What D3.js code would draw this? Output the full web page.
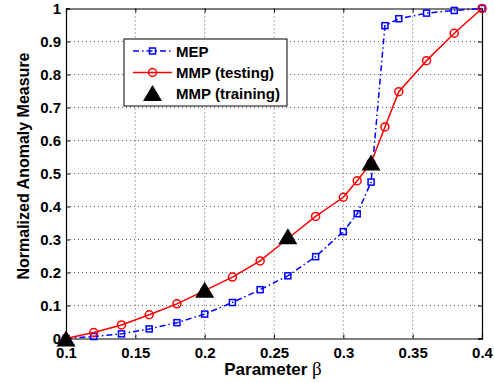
<!DOCTYPE html>
<html>
<head>
<meta charset="utf-8">
<script src="https://cdn.jsdelivr.net/npm/d3@7"></script>
<style>
  body { margin: 0; background: #fff; }
  text { font-family: "Liberation Sans", Arial, sans-serif; font-weight: bold; }
</style>
</head>
<body>
<div id="chart"></div>
<script>
// valeurs
const betaVals = [0.10, 0.12, 0.14, 0.16, 0.18, 0.20, 0.22, 0.24, 0.26, 0.28, 0.30, 0.31, 0.32, 0.33, 0.34, 0.36, 0.38, 0.40];
const mepVals  = [0, 0.006, 0.014, 0.029, 0.048, 0.074, 0.109, 0.148, 0.19, 0.248, 0.324, 0.378, 0.474, 0.948, 0.969, 0.986, 0.994, 1.0];
const mmpTest  = [0, 0.018, 0.041, 0.072, 0.105, 0.145, 0.186, 0.235, 0.303, 0.37, 0.428, 0.478, 0.532, 0.641, 0.748, 0.842, 0.925, 1.0];
const betaTrain = [0.10, 0.20, 0.26, 0.32];
const mmpTrain  = [0, 0.148, 0.31, 0.533];
const xTicks = [0.1, 0.15, 0.2, 0.25, 0.3, 0.35, 0.4];
const yTicks = [0, 0.1, 0.2, 0.3, 0.4, 0.5, 0.6, 0.7, 0.8, 0.9, 1];
const legendLabels = ["MEP", "MMP (testing)", "MMP (training)"];

const W = 495, H = 383;
const L = 66, R = 482, T = 8.5, B = 338.5;

const svg = d3.select("#chart").append("svg")
  .attr("width", W).attr("height", H);

const x = d3.scaleLinear().domain([0.1, 0.4]).range([L, R]);
const y = d3.scaleLinear().domain([0, 1]).range([B, T]);

// grille pointillée
const grid = svg.append("g")
  .attr("stroke", "#333").attr("stroke-width", 0.8).attr("stroke-dasharray", "1,3");
grid.selectAll("line.gx").data(xTicks.slice(1, -1)).join("line")
  .attr("x1", d => x(d)).attr("x2", d => x(d)).attr("y1", T).attr("y2", B);
grid.selectAll("line.gy").data(yTicks.slice(1, -1)).join("line")
  .attr("x1", L).attr("x2", R).attr("y1", d => y(d)).attr("y2", d => y(d));

// axes (ticks vers l'intérieur)
const axB = svg.append("g").attr("transform", `translate(0,${B})`)
  .call(d3.axisBottom(x).tickValues(xTicks).tickSize(-4).tickPadding(9).tickFormat(d3.format("")));
const axT = svg.append("g").attr("transform", `translate(0,${T})`)
  .call(d3.axisTop(x).tickValues(xTicks).tickSize(-4).tickFormat(""));
const axL = svg.append("g").attr("transform", `translate(${L},0)`)
  .call(d3.axisLeft(y).tickValues(yTicks).tickSize(-4).tickPadding(5).tickFormat(d3.format("")));
const axR = svg.append("g").attr("transform", `translate(${R},0)`)
  .call(d3.axisRight(y).tickValues(yTicks).tickSize(-4).tickFormat(""));
[axB, axT, axL, axR].forEach(a => {
  a.select(".domain").attr("stroke", "#000").attr("stroke-width", 1.2);
  a.selectAll(".tick line").attr("stroke", "#000");
  a.selectAll("text").attr("font-size", 15).attr("fill", "#000")
    .style("font-family", "Liberation Sans, Arial, sans-serif").style("font-weight", "bold");
});

// courbes
const line = d3.line().x(d => x(d[0])).y(d => y(d[1]));
const mepPts = betaVals.map((b, i) => [b, mepVals[i]]);
const testPts = betaVals.map((b, i) => [b, mmpTest[i]]);
const trainPts = betaTrain.map((b, i) => [b, mmpTrain[i]]);

svg.append("path").datum(mepPts).attr("d", line)
  .attr("fill", "none").attr("stroke", "#0000ff").attr("stroke-width", 1.5)
  .attr("stroke-dasharray", "6,3,1.5,3");
svg.selectAll("rect.mep").data(mepPts).join("rect")
  .attr("x", d => x(d[0]) - 3).attr("y", d => y(d[1]) - 3)
  .attr("width", 6).attr("height", 6)
  .attr("fill", "none").attr("stroke", "#0000ff").attr("stroke-width", 1.5);

svg.append("path").datum(testPts).attr("d", line)
  .attr("fill", "none").attr("stroke", "#ff0000").attr("stroke-width", 1.5);
svg.selectAll("circle.mmp").data(testPts).join("circle")
  .attr("cx", d => x(d[0])).attr("cy", d => y(d[1])).attr("r", 4)
  .attr("fill", "none").attr("stroke", "#ff0000").attr("stroke-width", 1.5);

const tri = "M0,-8L9.5,8L-9.5,8Z";
svg.selectAll("path.tri").data(trainPts).join("path")
  .attr("transform", d => `translate(${x(d[0])},${y(d[1])})`)
  .attr("d", tri).attr("fill", "#000");

// libellés des axes
svg.append("text").attr("x", 273).attr("y", 375).attr("text-anchor", "middle")
  .attr("font-size", 17)
  .text("Parameter ")
  .append("tspan").style("font-family", "Liberation Serif, serif").style("font-weight", "normal")
  .attr("font-size", 19).text("β");
svg.append("text").attr("transform", "translate(29,166) rotate(-90)")
  .attr("text-anchor", "middle").attr("font-size", 16)
  .text("Normalized Anomaly Measure");

// légende
const lg = svg.append("g");
lg.append("rect").attr("x", 124).attr("y", 39).attr("width", 163).attr("height", 67)
  .attr("fill", "#fff").attr("stroke", "#000").attr("stroke-width", 1);
const rowsY = [51, 72.5, 93];
lg.append("line").attr("x1", 133).attr("x2", 172).attr("y1", rowsY[0]).attr("y2", rowsY[0])
  .attr("stroke", "#0000ff").attr("stroke-width", 1.5).attr("stroke-dasharray", "6,3,1.5,3");
lg.append("rect").attr("x", 149.5).attr("y", rowsY[0] - 3).attr("width", 6).attr("height", 6)
  .attr("fill", "none").attr("stroke", "#0000ff").attr("stroke-width", 1.5);
lg.append("line").attr("x1", 133).attr("x2", 172).attr("y1", rowsY[1]).attr("y2", rowsY[1])
  .attr("stroke", "#ff0000").attr("stroke-width", 1.5);
lg.append("circle").attr("cx", 152.5).attr("cy", rowsY[1]).attr("r", 4)
  .attr("fill", "none").attr("stroke", "#ff0000").attr("stroke-width", 1.5);
lg.append("path").attr("transform", `translate(152.5,${rowsY[2]})`).attr("d", tri).attr("fill", "#000");
lg.selectAll("text").data(legendLabels).join("text")
  .attr("x", 176).attr("y", (d, i) => rowsY[i] + 5.5)
  .attr("font-size", 15).text(d => d);
</script>
</body>
</html>
